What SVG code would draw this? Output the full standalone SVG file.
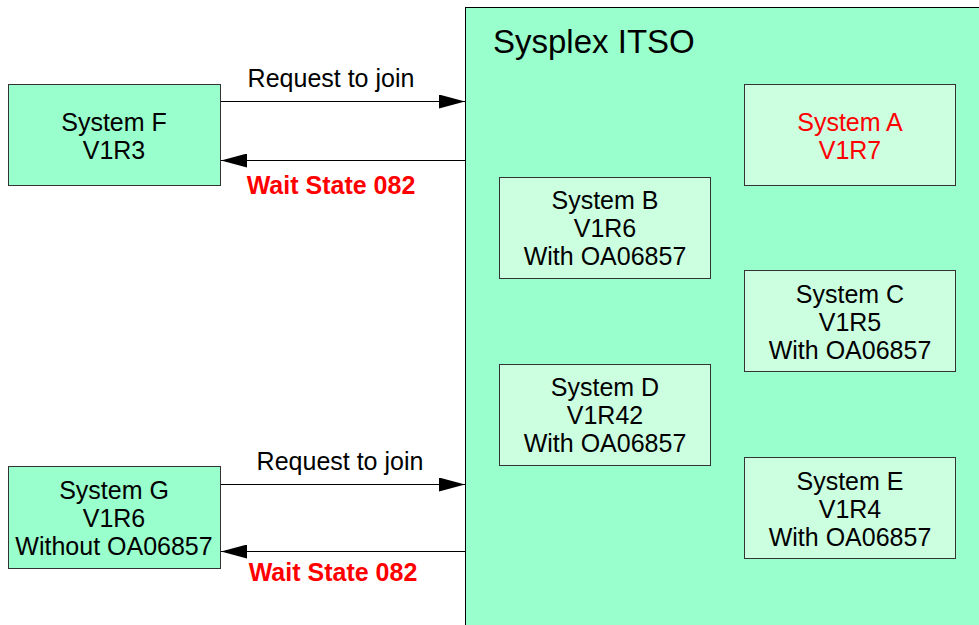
<svg xmlns="http://www.w3.org/2000/svg" width="979" height="625" viewBox="0 0 979 625">
<style>
text{font-family:"Liberation Sans",Arial,sans-serif;font-size:25px;text-anchor:middle;fill:#000}
.outer{fill:#99FFCC;stroke:#000;stroke-width:1}
.inner{fill:#CCFFE0;stroke:#333;stroke-width:1}
.ext{fill:#99FFCC;stroke:#333;stroke-width:1}
.red{fill:#FF0000}
.wait{fill:#FF0000;font-weight:bold}
.conn{stroke:#000;stroke-width:1;fill:none;marker-end:url(#ah)}
</style>
<defs>
<marker id="ah" markerWidth="26" markerHeight="14" refX="26" refY="7" orient="auto" markerUnits="userSpaceOnUse">
<path d="M0,0 L26,7 L0,14 Z" fill="#000"/>
</marker>
</defs>
<rect width="979" height="625" fill="#fff"/>
<g id="sysplex">
<rect class="outer" x="465.5" y="7.5" width="520" height="630"/>
<text x="493" y="53" style="font-size:33px;text-anchor:start">Sysplex ITSO</text>
</g>
<g id="systemA">
<rect class="inner" x="744.5" y="84.5" width="211" height="101"/>
<text class="red" x="850" y="131">System A</text>
<text class="red" x="850" y="159">V1R7</text>
</g>
<g id="systemB">
<rect class="inner" x="499.5" y="177.5" width="211" height="101"/>
<text x="605" y="209">System B</text>
<text x="605" y="237">V1R6</text>
<text x="605" y="265">With OA06857</text>
</g>
<g id="systemC">
<rect class="inner" x="744.5" y="270.5" width="211" height="101"/>
<text x="850" y="303">System C</text>
<text x="850" y="331">V1R5</text>
<text x="850" y="359">With OA06857</text>
</g>
<g id="systemD">
<rect class="inner" x="499.5" y="364.5" width="211" height="101"/>
<text x="605" y="396">System D</text>
<text x="605" y="424">V1R42</text>
<text x="605" y="452">With OA06857</text>
</g>
<g id="systemE">
<rect class="inner" x="744.5" y="457.5" width="211" height="101"/>
<text x="850" y="490">System E</text>
<text x="850" y="518">V1R4</text>
<text x="850" y="546">With OA06857</text>
</g>
<g id="systemF">
<rect class="ext" x="8.5" y="84.5" width="212" height="101"/>
<text x="114" y="131">System F</text>
<text x="114" y="159">V1R3</text>
</g>
<g id="systemG">
<rect class="ext" x="8.5" y="466.5" width="212" height="102"/>
<text x="114" y="499">System G</text>
<text x="114" y="527">V1R6</text>
<text x="114" y="555">Without OA06857</text>
</g>
<g id="connectors">
<line class="conn" x1="221" y1="101.5" x2="465" y2="101.5"/>
<line class="conn" x1="465" y1="160.5" x2="221" y2="160.5"/>
<line class="conn" x1="221" y1="484.5" x2="465" y2="484.5"/>
<line class="conn" x1="465" y1="551.5" x2="221" y2="551.5"/>
<text x="331" y="87">Request to join</text>
<text class="wait" x="331" y="194">Wait State 082</text>
<text x="340" y="470">Request to join</text>
<text class="wait" x="333" y="581">Wait State 082</text>
</g>
</svg>
